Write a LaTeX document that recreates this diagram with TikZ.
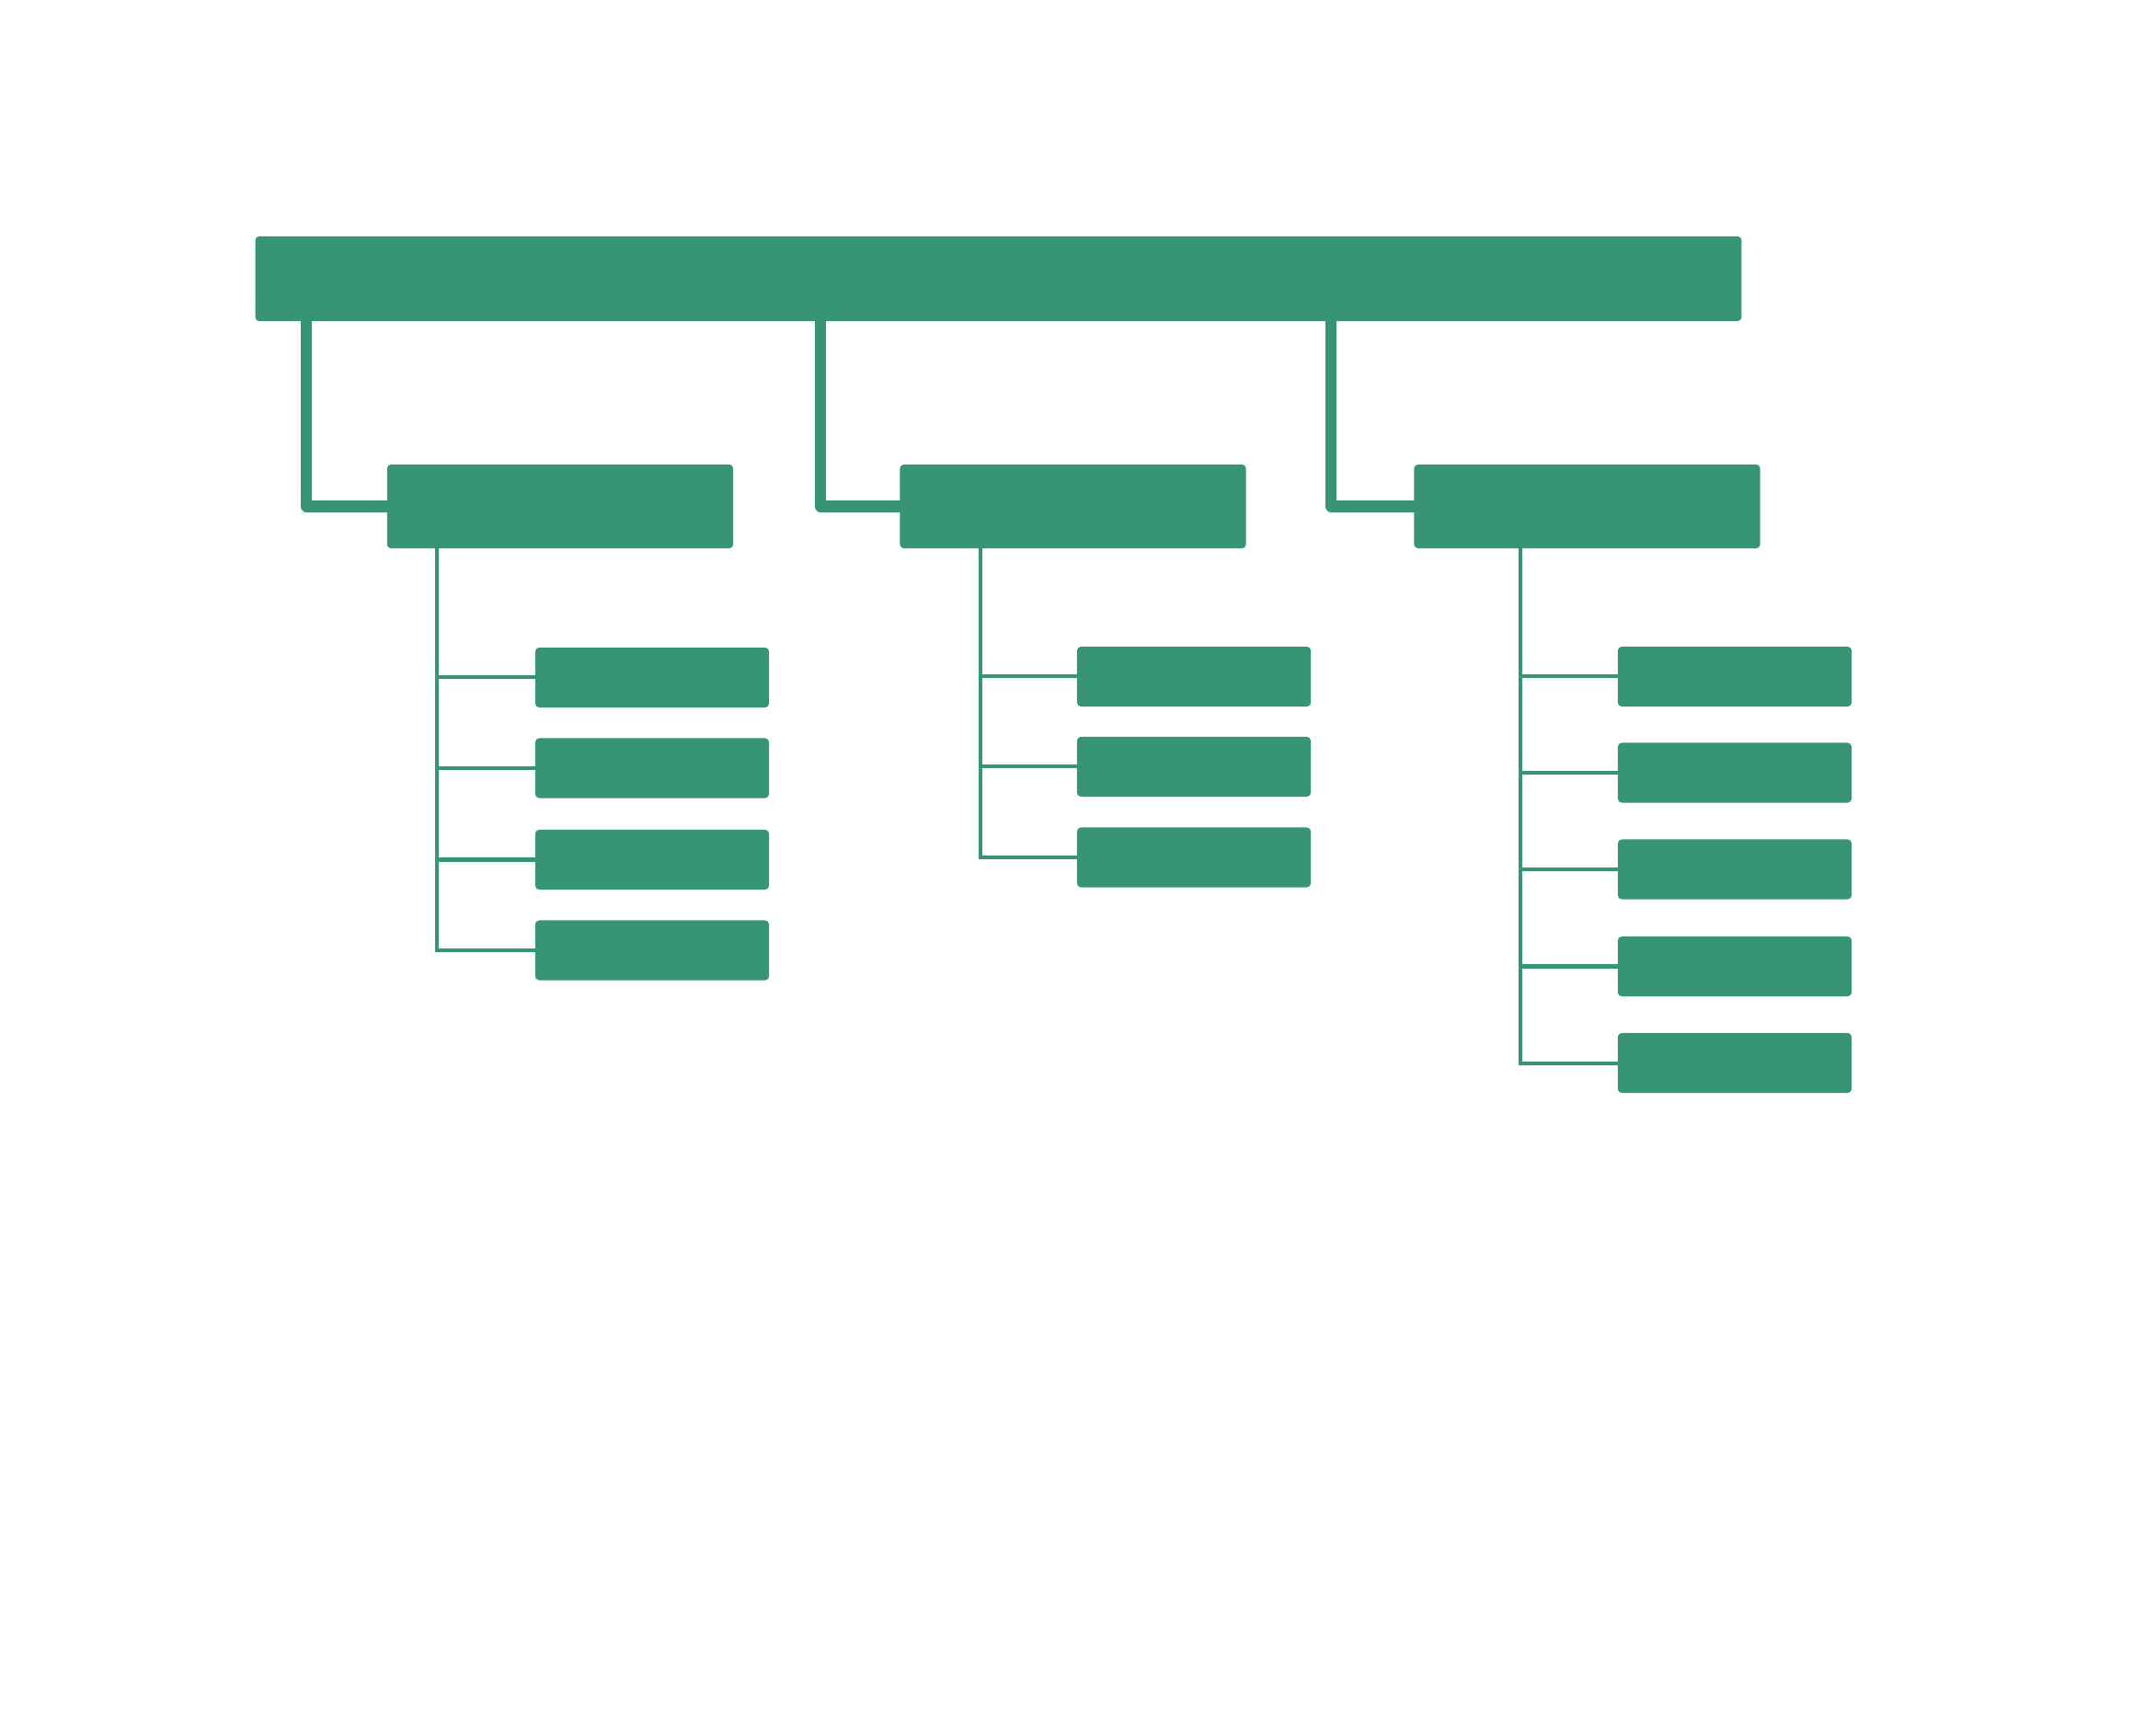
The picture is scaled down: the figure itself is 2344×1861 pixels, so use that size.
\documentclass[tikz,border=0pt]{standalone}
\usetikzlibrary{calc,backgrounds}
\definecolor{boxgreen}{RGB}{55,148,119}
\begin{document}
\begin{tikzpicture}[x=0.01cm,y=-0.01cm,
	box/.style={fill=boxgreen, rounded corners=1.2pt, inner sep=0pt},
	rootbox/.style={box, minimum width=16.15cm, minimum height=0.92cm},
	midbox/.style={box, minimum width=3.76cm, minimum height=0.91cm},
	leafbox/.style={box, minimum width=2.54cm, minimum height=0.65cm},
	trunk/.style={draw=boxgreen, line width=0.12cm, line join=round, shorten <=-3pt, shorten >=-3pt},
	twig/.style={draw=boxgreen, line width=0.04cm, shorten >=-2pt}]
	\useasboundingbox (0,0) rectangle (2344,1861);
	
	\node[rootbox] (root) at (1085.5,303) {};
	\node[midbox] (m1) at (609,550.5) {};
	\node[midbox] (m2) at (1166.5,550.5) {};
	\node[midbox] (m3) at (1725.5,550.5) {};
	
	\foreach \y [count=\i] in {736.5,835,934.5,1033}
		\node[leafbox] (a\i) at (709,\y) {};
	\foreach \y [count=\i] in {735.5,833.5,932}
		\node[leafbox] (b\i) at (1298,\y) {};
	\foreach \y [count=\i] in {735.5,840,945,1050.5,1155.5}
		\node[leafbox] (c\i) at (1886,\y) {};
	
	\begin{scope}[on background layer]
	% trunks from the root bar
	\coordinate (k1) at (333,0);
	\coordinate (k2) at (892,0);
	\coordinate (k3) at (1447,0);
	\draw[trunk] (k1 |- root.south) |- (m1.west);
	\draw[trunk] (k2 |- root.south) |- (m2.west);
	\draw[trunk] (k3 |- root.south) |- (m3.west);
	
	% twigs to the leaves
	\coordinate (v1) at (475,0);
	\coordinate (v2) at (1066,0);
	\coordinate (v3) at (1653,0);
	\draw[twig, shorten <=-2pt] (v1 |- m1.south) |- (a4.west);
	\foreach \i in {1,2,3}
		\draw[twig] (v1 |- a\i.west) -- (a\i.west);
	\draw[twig, shorten <=-2pt] (v2 |- m2.south) |- (b3.west);
	\foreach \i in {1,2}
		\draw[twig] (v2 |- b\i.west) -- (b\i.west);
	\draw[twig, shorten <=-2pt] (v3 |- m3.south) |- (c5.west);
	\foreach \i in {1,...,4}
		\draw[twig] (v3 |- c\i.west) -- (c\i.west);
	\end{scope}
\end{tikzpicture}
\end{document}
